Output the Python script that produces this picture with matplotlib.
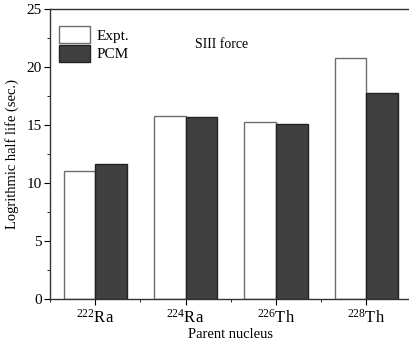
import matplotlib

matplotlib.use("Agg")
matplotlib.rcParams["font.family"] = ["Liberation Serif", "DejaVu Serif"]
matplotlib.rcParams["mathtext.fontset"] = "custom"
matplotlib.rcParams["mathtext.rm"] = "Liberation Serif"
matplotlib.rcParams["mathtext.it"] = "Liberation Serif:italic"
import matplotlib.pyplot as plt
import numpy as np
from matplotlib.ticker import MultipleLocator, FixedLocator

nuclei = [r"$^{222}$Ra", r"$^{224}$Ra", r"$^{226}$Th", r"$^{228}$Th"]
expt = [11.0, 15.8, 15.3, 20.8]
pcm = [11.6, 15.7, 15.1, 17.8]

fig = plt.figure(figsize=(4.09, 3.45), dpi=100)
ax = fig.add_axes([50 / 409, 46 / 345, 361.5 / 409, 290 / 345])

x = np.arange(len(nuclei))
w = 0.35
ax.bar(x - w / 2, expt, w, color="white", edgecolor="#6e6e6e", linewidth=1.0, label="Expt.")
ax.bar(x + w / 2, pcm, w, color="#404040", edgecolor="#222222", linewidth=1.0, label="PCM")

ax.set_xlim(-0.5, 3.5)
ax.set_ylim(0, 25)
ax.set_xticks(x)
ax.set_xticklabels(nuclei, fontsize=12)
ax.xaxis.set_minor_locator(FixedLocator([-0.5, 0.5, 1.5, 2.5]))
ax.yaxis.set_major_locator(MultipleLocator(5))
ax.yaxis.set_minor_locator(MultipleLocator(2.5))
ax.tick_params(axis="y", which="major", direction="out", length=4, labelsize=11, pad=2)
ax.tick_params(axis="y", which="minor", direction="out", length=2.5)
ax.tick_params(axis="x", which="major", direction="out", length=4, pad=3)
ax.tick_params(axis="x", which="minor", direction="out", length=2.5)
for sp in ax.spines.values():
    sp.set_linewidth(1.0)
    sp.set_color("#333333")

ax.set_ylabel("Logrithmic half life (sec.)", fontsize=10.5, labelpad=5)
ax.set_xlabel("Parent nucleus", fontsize=10.5, labelpad=1)
ax.text(0.40, 0.878, "SIII force", transform=ax.transAxes, fontsize=10, ha="left", va="center")

ax.legend(loc="upper left", bbox_to_anchor=(0.02, 0.945), frameon=False, fontsize=11,
          handlelength=2.05, handleheight=1.3, handletextpad=0.4, labelspacing=0.12,
          borderaxespad=0.0, borderpad=0.1)

fig.savefig("out.png", dpi=100, facecolor="white")
